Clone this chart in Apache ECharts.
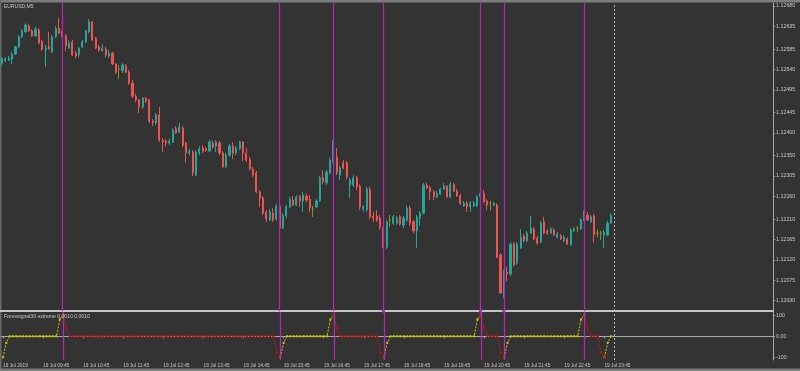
<!DOCTYPE html>
<html><head><meta charset="utf-8">
<script src="https://cdn.jsdelivr.net/npm/echarts@6/dist/echarts.min.js"></script>
<style>html,body{margin:0;padding:0;background:#333333;}#c{width:800px;height:371px;}</style>
</head><body><div id="c"></div>
<script>
const symbolName = 'EURUSD,M5';
const indicatorName = 'Forexsignal30 extreme 0.0010 0.0010';

const opens = [
1.12554,1.12559,1.12561,1.12563,1.12574,1.12590,1.12612,1.12623,1.12636,1.12625,
1.12614,1.12627,1.12601,1.12583,1.12590,1.12579,1.12612,1.12631,1.12625,1.12614,
1.12587,1.12601,1.12576,1.12572,1.12590,1.12601,1.12623,1.12645,1.12609,1.12590,
1.12581,1.12585,1.12570,1.12576,1.12552,1.12541,1.12537,1.12548,1.12534,1.12510,
1.12481,1.12473,1.12457,1.12477,1.12473,1.12426,1.12422,1.12440,1.12384,1.12382,
1.12378,1.12380,1.12409,1.12402,1.12411,1.12378,1.12356,1.12358,1.12307,1.12356,
1.12367,1.12365,1.12360,1.12378,1.12371,1.12378,1.12356,1.12325,1.12351,1.12371,
1.12356,1.12365,1.12380,1.12356,1.12342,1.12320,1.12312,1.12270,1.12256,1.12226,
1.12208,1.12223,1.12210,1.12239,1.12190,1.12217,1.12237,1.12252,1.12241,1.12259,
1.12250,1.12261,1.12254,1.12234,1.12237,1.12250,1.12301,1.12290,1.12312,1.12338,
1.12347,1.12307,1.12334,1.12334,1.12285,1.12285,1.12301,1.12283,1.12232,1.12230,
1.12276,1.12217,1.12217,1.12212,1.12192,1.12148,1.12208,1.12201,1.12201,1.12215,
1.12197,1.12208,1.12234,1.12204,1.12184,1.12212,1.12223,1.12285,1.12279,1.12270,
1.12259,1.12265,1.12276,1.12283,1.12259,1.12287,1.12272,1.12261,1.12239,1.12245,
1.12237,1.12239,1.12239,1.12259,1.12267,1.12250,1.12245,1.12241,1.12241,1.12131,
1.12047,1.12093,1.12089,1.12155,1.12113,1.12146,1.12173,1.12162,1.12179,1.12188,
1.12168,1.12159,1.12204,1.12184,1.12179,1.12186,1.12170,1.12173,1.12162,1.12166,
1.12153,1.12184,1.12190,1.12188,1.12208,1.12219,1.12204,1.12217,1.12179,1.12179,
1.12175,1.12175,1.12201];

const closes = [
1.12565,1.12563,1.12565,1.12574,1.12590,1.12612,1.12625,1.12638,1.12625,1.12614,
1.12629,1.12598,1.12585,1.12587,1.12585,1.12612,1.12631,1.12620,1.12612,1.12592,
1.12598,1.12572,1.12570,1.12587,1.12601,1.12625,1.12645,1.12605,1.12587,1.12583,
1.12587,1.12572,1.12576,1.12552,1.12534,1.12541,1.12550,1.12534,1.12510,1.12481,
1.12473,1.12457,1.12477,1.12470,1.12426,1.12422,1.12440,1.12384,1.12380,1.12378,
1.12382,1.12406,1.12400,1.12413,1.12373,1.12356,1.12360,1.12312,1.12358,1.12365,
1.12360,1.12362,1.12380,1.12369,1.12380,1.12356,1.12325,1.12351,1.12371,1.12356,
1.12367,1.12380,1.12356,1.12340,1.12320,1.12307,1.12270,1.12256,1.12223,1.12210,
1.12226,1.12208,1.12239,1.12190,1.12219,1.12237,1.12254,1.12241,1.12259,1.12250,
1.12263,1.12252,1.12234,1.12234,1.12250,1.12301,1.12292,1.12314,1.12340,1.12347,
1.12312,1.12323,1.12323,1.12303,1.12296,1.12301,1.12281,1.12237,1.12237,1.12276,
1.12215,1.12212,1.12208,1.12192,1.12146,1.12204,1.12208,1.12215,1.12212,1.12199,
1.12212,1.12234,1.12201,1.12184,1.12215,1.12223,1.12285,1.12279,1.12270,1.12259,
1.12267,1.12276,1.12283,1.12259,1.12287,1.12272,1.12261,1.12245,1.12245,1.12237,
1.12245,1.12245,1.12259,1.12267,1.12248,1.12241,1.12245,1.12245,1.12126,1.12047,
1.12093,1.12089,1.12155,1.12109,1.12155,1.12170,1.12162,1.12179,1.12190,1.12166,
1.12157,1.12201,1.12179,1.12179,1.12188,1.12175,1.12177,1.12166,1.12170,1.12155,
1.12186,1.12188,1.12190,1.12208,1.12219,1.12208,1.12215,1.12175,1.12179,1.12179,
1.12181,1.12201,1.12218];

const lows = [
1.12548,1.12556,1.12559,1.12552,1.12572,1.12587,1.12609,1.12620,1.12623,1.12612,
1.12612,1.12596,1.12581,1.12545,1.12583,1.12576,1.12609,1.12618,1.12609,1.12581,
1.12585,1.12570,1.12565,1.12567,1.12587,1.12598,1.12620,1.12603,1.12585,1.12579,
1.12579,1.12567,1.12565,1.12550,1.12530,1.12519,1.12532,1.12532,1.12506,1.12477,
1.12468,1.12444,1.12453,1.12466,1.12422,1.12415,1.12417,1.12380,1.12358,1.12371,
1.12373,1.12378,1.12398,1.12400,1.12369,1.12336,1.12351,1.12305,1.12305,1.12351,
1.12356,1.12358,1.12358,1.12365,1.12358,1.12351,1.12323,1.12323,1.12347,1.12342,
1.12351,1.12362,1.12338,1.12336,1.12318,1.12303,1.12267,1.12237,1.12219,1.12204,
1.12206,1.12204,1.12206,1.12168,1.12188,1.12212,1.12234,1.12239,1.12239,1.12237,
1.12226,1.12248,1.12226,1.12215,1.12234,1.12248,1.12287,1.12285,1.12309,1.12334,
1.12307,1.12296,1.12320,1.12298,1.12256,1.12281,1.12274,1.12230,1.12226,1.12226,
1.12210,1.12204,1.12204,1.12186,1.12142,1.12144,1.12192,1.12197,1.12197,1.12195,
1.12190,1.12204,1.12195,1.12179,1.12146,1.12195,1.12221,1.12276,1.12252,1.12252,
1.12256,1.12263,1.12274,1.12256,1.12256,1.12270,1.12259,1.12241,1.12237,1.12226,
1.12226,1.12237,1.12237,1.12256,1.12245,1.12230,1.12230,1.12239,1.12124,1.12045,
1.12036,1.12073,1.12084,1.12106,1.12109,1.12144,1.12159,1.12159,1.12177,1.12164,
1.12153,1.12157,1.12177,1.12175,1.12177,1.12173,1.12168,1.12164,1.12159,1.12153,
1.12151,1.12181,1.12181,1.12186,1.12206,1.12206,1.12201,1.12159,1.12170,1.12164,
1.12146,1.12173,1.12199];

const highs = [
1.12567,1.12567,1.12570,1.12579,1.12592,1.12616,1.12629,1.12642,1.12640,1.12629,
1.12634,1.12631,1.12605,1.12594,1.12623,1.12616,1.12636,1.12654,1.12629,1.12618,
1.12605,1.12605,1.12581,1.12590,1.12605,1.12627,1.12651,1.12647,1.12612,1.12594,
1.12596,1.12590,1.12583,1.12579,1.12554,1.12550,1.12554,1.12552,1.12539,1.12517,
1.12486,1.12475,1.12479,1.12479,1.12475,1.12431,1.12444,1.12457,1.12389,1.12387,
1.12387,1.12411,1.12415,1.12422,1.12415,1.12380,1.12365,1.12362,1.12362,1.12371,
1.12373,1.12369,1.12384,1.12384,1.12384,1.12382,1.12360,1.12356,1.12376,1.12380,
1.12371,1.12382,1.12382,1.12367,1.12347,1.12325,1.12316,1.12274,1.12261,1.12230,
1.12232,1.12234,1.12243,1.12243,1.12223,1.12241,1.12259,1.12261,1.12263,1.12263,
1.12270,1.12267,1.12263,1.12239,1.12254,1.12305,1.12318,1.12318,1.12345,1.12384,
1.12367,1.12327,1.12340,1.12338,1.12301,1.12307,1.12305,1.12287,1.12241,1.12281,
1.12281,1.12226,1.12230,1.12219,1.12197,1.12208,1.12219,1.12219,1.12217,1.12219,
1.12217,1.12239,1.12239,1.12208,1.12219,1.12228,1.12290,1.12290,1.12283,1.12274,
1.12272,1.12279,1.12290,1.12285,1.12292,1.12290,1.12276,1.12265,1.12250,1.12250,
1.12250,1.12250,1.12263,1.12296,1.12274,1.12254,1.12250,1.12248,1.12245,1.12135,
1.12098,1.12106,1.12159,1.12159,1.12159,1.12188,1.12177,1.12184,1.12217,1.12192,
1.12173,1.12206,1.12215,1.12188,1.12192,1.12190,1.12181,1.12177,1.12175,1.12170,
1.12190,1.12192,1.12195,1.12212,1.12230,1.12226,1.12219,1.12221,1.12186,1.12184,
1.12186,1.12206,1.12223];

const priceTicks = [1.12030,1.12075,1.12120,1.12165,1.12210,1.12260,1.12305,1.12350,1.12400,1.12445,1.12495,1.12540,1.12585,1.12635,1.12680];
const lastPrice = 1.12218;

const xTickLabels = ['19 Jul 2019','19 Jul 09:45','19 Jul 10:45','19 Jul 11:45','19 Jul 12:45','19 Jul 13:45','19 Jul 14:45','19 Jul 15:45','19 Jul 16:45','19 Jul 17:45','19 Jul 18:45','19 Jul 19:45','19 Jul 20:45','19 Jul 21:45','19 Jul 22:45','19 Jul 23:45'];

const indValues = [
-100,-31,0,0,0,0,0,0,0,0,
0,0,0,0,0,0,0,80,100,38,
0,0,0,0,0,0,0,0,0,0,
0,0,0,0,0,0,0,0,0,0,
0,0,0,0,0,0,0,0,0,0,
0,0,0,0,0,0,0,0,0,0,
0,0,0,0,0,0,0,0,0,0,
0,0,0,0,0,0,0,0,0,0,
0,0,-78,-100,-31,0,0,0,0,0,
0,0,0,0,0,0,0,0,80,100,
38,0,0,0,0,0,0,0,0,0,
0,0,0,-78,-100,-31,0,0,0,0,
0,0,0,0,0,0,0,0,0,0,
0,0,0,0,0,0,0,0,0,0,
0,0,80,100,38,0,0,0,0,-78,
-100,-31,0,0,0,0,0,0,0,0,
0,0,0,0,0,0,0,0,0,0,
0,0,0,80,100,38,0,0,0,-78,
-100,-31,0];
const indTicks = [-100, 0, 100];
const indTickLabels = ['-100', '0.00', '100'];

const extremeBars = [0, 18, 83, 99, 114, 143, 150, 174, 180];
const signalBars = [18, 83, 99, 114, 143, 150, 174];
const flaggedSignalBars = [114, 143, 150];
const shiftBar = 183;
const totalSlots = 231;

// ---- build ----
const bull = '#26a69a', bear = '#ef5350', doji = '#8f8f1f';
const cats = Array.from({length: totalSlots}, (_, i) => String(i));
const candleData = opens.map((o, i) => {
  const v = [o, closes[i], lows[i], highs[i]];
  if (o === closes[i]) {
    return {value: v, itemStyle: {color: doji, color0: doji, borderColor: doji, borderColor0: doji, borderColorDoji: doji}};
  }
  return v;
});

// rising (trough -> peak) = yellow, falling (peak -> trough) = red
const yellowData = indValues.map(() => null);
const redData = indValues.map(() => null);
const segEnds = extremeBars.concat([indValues.length - 1]);
for (let k = 0; k < segEnds.length - 1; k++) {
  const a = segEnds[k], b = segEnds[k + 1];
  const target = indValues[a] < 0 ? yellowData : redData;
  for (let i = a; i <= b; i++) target[i] = indValues[i];
}

function vLines(withFlags) {
  const d = signalBars.map(b => {
    const item = {xAxis: b, lineStyle: {color: '#b828b8', width: 1.25, type: 'solid'}};
    if (withFlags && flaggedSignalBars.includes(b)) {
      item.symbol = ['rect', 'rect'];
      item.symbolSize = 3;
      item.itemStyle = {color: '#ff8aff'};
    }
    return item;
  });
  d.push({xAxis: shiftBar, lineStyle: {color: '#bdbdbd', width: 1, type: [2, 2]}});
  return d;
}

const font = 'Liberation Sans, Arial, sans-serif';
const txt = '#c9c9c9';
const axisCol = '#a8a8a8';

const chart = echarts.init(document.getElementById('c'), null, {renderer: 'canvas', devicePixelRatio: 1});
chart.setOption({
  animation: false,
  backgroundColor: '#333333',
  title: [
    {text: symbolName, left: 4, top: 4, padding: 0, textStyle: {color: txt, fontSize: 5, fontWeight: 'normal', fontFamily: font}},
    {text: indicatorName, left: 4, top: 314, padding: 0, textStyle: {color: txt, fontSize: 5.1, fontWeight: 'normal', fontFamily: font}}
  ],
  graphic: [
    {type: 'rect', shape: {x: 0, y: 0, width: 800, height: 2.5}, style: {fill: '#7c7c7c'}, silent: true},
    {type: 'rect', shape: {x: 0, y: 0, width: 1.5, height: 371}, style: {fill: '#6a6a6a'}, silent: true},
    {type: 'rect', shape: {x: 0, y: 368.5, width: 800, height: 2.5}, style: {fill: '#7c7c7c'}, silent: true}
  ],
  grid: [
    {left: 0.4, width: 772.7, top: 3.28, height: 307.86},
    {left: 0.4, width: 772.7, top: 312, height: 48}
  ],
  xAxis: [
    {type: 'category', gridIndex: 0, data: cats, boundaryGap: true,
     axisLine: {show: true, lineStyle: {color: '#c4c4c4', width: 2}}, axisTick: {show: false}, axisLabel: {show: false}, splitLine: {show: false}},
    {type: 'category', gridIndex: 1, data: cats, boundaryGap: true,
     axisLine: {show: true, lineStyle: {color: axisCol, width: 1}},
     axisTick: {show: true, alignWithLabel: true, length: 2, lineStyle: {color: axisCol},
       interval: (i) => i % 12 === 0 && i / 12 < xTickLabels.length},
     axisLabel: {show: true, align: 'left', margin: 3, color: txt, fontSize: 4.8, fontFamily: font,
       interval: (i) => i % 12 === 0 && i / 12 < xTickLabels.length,
       formatter: (v, i) => xTickLabels[i / 12] || ''},
     splitLine: {show: false}}
  ],
  yAxis: [
    {type: 'value', gridIndex: 0, position: 'right', min: 1.12007, max: 1.12686, scale: true,
     axisLine: {show: true, lineStyle: {color: axisCol, width: 1}},
     axisTick: {show: true, length: 2, customValues: priceTicks, lineStyle: {color: axisCol}},
     axisLabel: {show: true, customValues: priceTicks, formatter: (v) => v.toFixed(5), color: txt, fontSize: 5.3, fontFamily: font, margin: 3},
     splitLine: {show: false}},
    {type: 'value', gridIndex: 1, position: 'right', min: -112.9, max: 115.7,
     axisLine: {show: true, lineStyle: {color: axisCol, width: 1}},
     axisTick: {show: true, length: 2, customValues: indTicks, lineStyle: {color: axisCol}},
     axisLabel: {show: true, customValues: indTicks, formatter: (v) => indTickLabels[indTicks.indexOf(Math.round(v))] ?? '', color: txt, fontSize: 5.3, fontFamily: font, margin: 3},
     splitLine: {show: false}}
  ],
  series: [
    {type: 'candlestick', xAxisIndex: 0, yAxisIndex: 0, data: candleData, barWidth: 1.6, silent: true,
     itemStyle: {color: bull, color0: bear, borderColor: bull, borderColor0: bear, borderColorDoji: doji, borderWidth: 1},
     markLine: {silent: true, symbol: ['none', 'none'], animation: false, label: {show: false},
       data: vLines(true).concat([{yAxis: lastPrice, lineStyle: {color: '#6c6c6c', width: 1, type: 'solid'},
         label: {show: true, position: 'end', distance: 1, formatter: lastPrice.toFixed(5), color: '#333', backgroundColor: '#f2f2f2',
           fontSize: 5.3, fontFamily: font, padding: [1, 2, 0, 2]}}])}},
    {type: 'line', xAxisIndex: 1, yAxisIndex: 1, data: yellowData, connectNulls: false, silent: true,
     symbol: 'rect', symbolSize: 2, showSymbol: true, itemStyle: {color: '#c9c900'},
     lineStyle: {color: '#c9c900', width: 1, type: [2, 1.35]},
     markLine: {silent: true, symbol: ['none', 'none'], label: {show: false}, data: vLines(false)}},
    {type: 'line', xAxisIndex: 1, yAxisIndex: 1, data: redData, connectNulls: false, silent: true,
     symbol: 'rect', symbolSize: 2, showSymbol: true, itemStyle: {color: '#cc1010'},
     lineStyle: {color: '#cc1010', width: 1, type: [2, 1.35]}}
  ]
});
</script>
</body></html>
